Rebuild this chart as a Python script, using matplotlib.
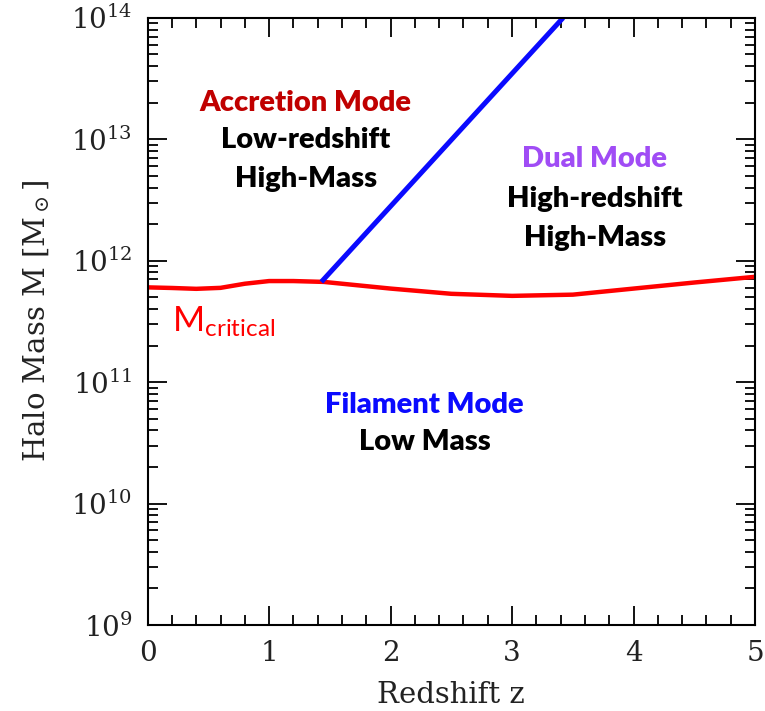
import matplotlib
matplotlib.use("Agg")
import matplotlib.pyplot as plt
import numpy as np

# critical halo mass versus redshift (log10 M / Msun)
z_crit = [0.0, 0.2, 0.4, 0.6, 0.8, 1.0, 1.2, 1.45, 2.0, 2.5, 3.0, 3.5, 4.0, 4.5, 5.0]
logm_crit = [11.78, 11.775, 11.768, 11.776, 11.81, 11.832, 11.832, 11.825, 11.77, 11.727, 11.71, 11.72, 11.77, 11.82, 11.867]

# boundary between accretion and dual mode
z_split = [1.43, 3.42]
logm_split = [11.825, 14.0]

decades = list(range(9, 15))
zticks = [0, 1, 2, 3, 4, 5]

plt.rcParams.update({
    "font.family": "serif",
    "font.serif": ["DejaVu Serif"],
    "mathtext.fontset": "dejavuserif",
    "axes.linewidth": 1.5,
})

fig = plt.figure(figsize=(7.65, 7.11), dpi=100)
ax = fig.add_axes([0.193, 0.121, 0.794, 0.854])

ax.plot(z_crit, 10 ** np.array(logm_crit), color="#ff0000", lw=3.2, solid_capstyle="butt")
ax.plot(z_split, 10 ** np.array(logm_split), color="#0a0aff", lw=3.6, solid_capstyle="butt")

ax.set_yscale("log")
ax.set_xlim(0, 5)
ax.set_ylim(1e9, 1e14)
ax.set_xticks(zticks)
ax.set_xticklabels([str(k) for k in zticks])
ax.set_xticks(np.arange(0, 5.01, 0.2), minor=True)
ax.set_yticks([10.0 ** k for k in decades])
ax.set_yticklabels([rf"$\mathregular{{10^{{{k}}}}}$" for k in decades])
ax.tick_params(which="both", direction="in", top=True, right=True, width=1.3,
               labelsize=20, pad=11, labelcolor="#222222")
ax.tick_params(which="major", length=14)
ax.tick_params(which="minor", length=7)

ax.set_xlabel("Redshift z", fontsize=21, labelpad=10, color="#222222")
ax.set_ylabel(r"Halo Mass M [M$_\odot$]", fontsize=21, labelpad=14, color="#222222")

sans = dict(family=["Lato", "DejaVu Sans"], fontweight="heavy", fontsize=21, ha="center", va="center")
ax.text(1.30, 10 ** 13.30, "Accretion Mode", color="#c00000", **sans)
ax.text(1.30, 10 ** 12.99, "Low-redshift", color="black", **sans)
ax.text(1.30, 10 ** 12.67, "High-Mass", color="black", **sans)

ax.text(3.68, 10 ** 12.84, "Dual Mode", color="#a04cf5", **sans)
ax.text(3.68, 10 ** 12.51, "High-redshift", color="black", **sans)
ax.text(3.68, 10 ** 12.19, "High-Mass", color="black", **sans)

ax.text(2.28, 10 ** 10.81, "Filament Mode", color="#0a0aff", **sans)
ax.text(2.28, 10 ** 10.51, "Low Mass", color="black", **sans)

ax.text(0.20, 10 ** 11.50, r"M$_{\mathregular{critical}}$", color="#ff0000",
        family=["Lato", "DejaVu Sans"], fontsize=25, ha="left", va="center")

fig.savefig("out.png", dpi=100, facecolor="white")
